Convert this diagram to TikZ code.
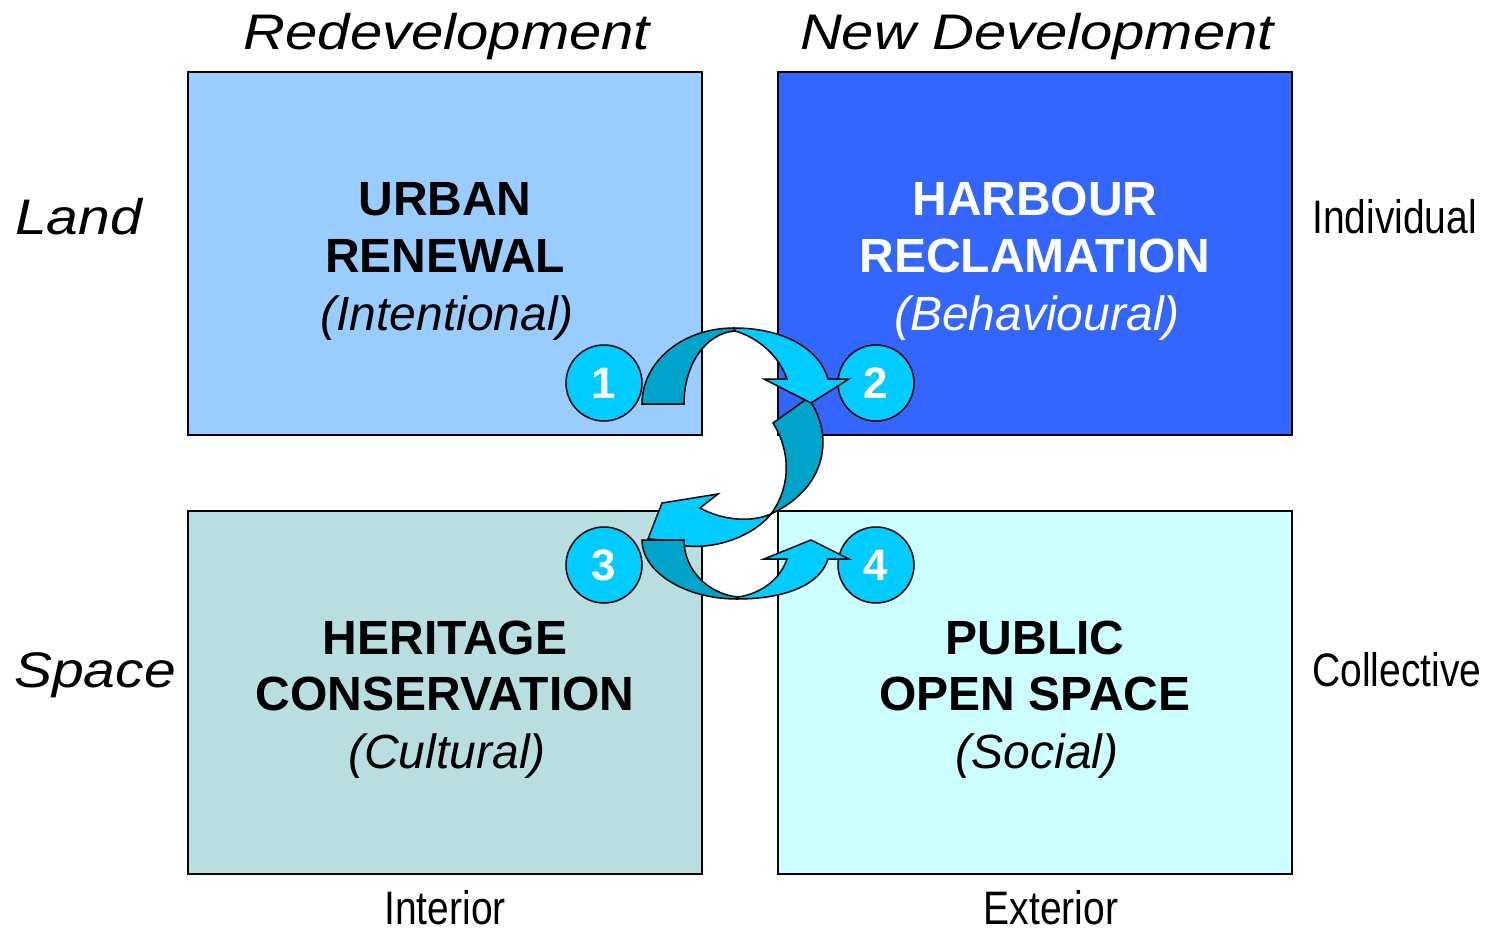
\documentclass[tikz,border=0pt]{standalone}
\usepackage{fontspec}
\setmainfont{Liberation Sans}
\definecolor{boxa}{HTML}{99CCFF}
\definecolor{boxb}{HTML}{3366FF}
\definecolor{boxc}{HTML}{B8DEE0}
\definecolor{boxd}{HTML}{CCFFFF}
\definecolor{cyanlight}{HTML}{00CCFF}
\definecolor{cyandark}{HTML}{00A3C9}
\begin{document}
\begin{tikzpicture}[x=1pt,y=-1pt,
  quad/.style={draw=black,line width=2pt,minimum width=514pt,minimum height=363pt,inner sep=0pt},
  big/.style={font=\fontsize{48}{57}\selectfont\bfseries,anchor=base,inner sep=0pt},
  sub/.style={font=\fontsize{48}{57}\selectfont\itshape,anchor=base,inner sep=0pt},
  axis/.style={font=\fontsize{50}{60}\selectfont\itshape,inner sep=0pt},
  side/.style={font=\fontsize{47}{55}\selectfont,inner sep=0pt},
  num/.style={circle,draw=black,line width=1.5pt,fill=cyanlight,minimum size=76pt,inner sep=0pt,text=white,font=\fontsize{44}{44}\selectfont\bfseries},
  adark/.style={fill=cyandark,draw=black,line width=1.5pt},
  alight/.style={fill=cyanlight,draw=black,line width=1.5pt}]
\useasboundingbox (0,0) rectangle (1486,931);
% quadrants
\node[quad,fill=boxa] (b1) at (445,253.5) {};
\node[quad,fill=boxb] (b2) at (1035,253.5) {};
\node[quad,fill=boxc] (b3) at (445,692.5) {};
\node[quad,fill=boxd] (b4) at (1035,692.5) {};
% quadrant texts
\node[big] (t1a) at (445,215) {URBAN};
\node[big] (t1b) at (445,272) {RENEWAL};
\node[sub] (t1c) at (447,330) {(Intentional)};
\node[big,text=white] (t2a) at (1035,215) {HARBOUR};
\node[big,text=white] (t2b) at (1035,272) {RECLAMATION};
\node[sub,text=white] (t2c) at (1037,330) {(Behavioural)};
\node[big] (t3a) at (445,654) {HERITAGE};
\node[big] (t3b) at (445,710) {CONSERVATION};
\node[sub] (t3c) at (447,768) {(Cultural)};
\node[big] (t4a) at (1035,654) {PUBLIC};
\node[big] (t4b) at (1035,710) {OPEN SPACE};
\node[sub] (t4c) at (1037,768) {(Social)};
% axis labels
\node[axis,anchor=base] (redev) at (447,50) {\scalebox{1.16}[1]{Redevelopment}};
\node[axis,anchor=base] (newdev) at (1037,50) {\scalebox{1.16}[1]{New Development}};
\node[axis,anchor=base west] (land) at (15,234) {\scalebox{1.14}[1]{Land}};
\node[axis,anchor=base west] (space) at (14,687) {\scalebox{1.14}[1]{Space}};
\node[side,anchor=base west] (indiv) at (1312,233) {\scalebox{0.83}[1]{Individual}};
\node[side,anchor=base west] (coll) at (1312,686) {\scalebox{0.83}[1]{Collective}};
\node[side,anchor=base] (inter) at (445,924) {\scalebox{0.83}[1]{Interior}};
\node[side,anchor=base] (exter) at (1051,924) {\scalebox{0.83}[1]{Exterior}};
% numbered circles
\node[num] (c1) at (604,383) {1};
\node[num] (c2) at (876,383) {2};
\node[num] (c3) at (604,565) {3};
\node[num] (c4) at (876,565) {4};
% arrow 2 -> 3
\draw[adark] (773,423) -- (808,398) .. controls (832,430) and (832,485) .. (771,514)
  .. controls (792,485) and (790,450) .. (773,423) -- cycle;
\draw[alight] (771,514) .. controls (750,540) and (700,556) .. (662,540) -- (648,539)
  -- (662,503) -- (718,494) -- (700,508) .. controls (722,520) and (750,523) .. (771,514) -- cycle;
% arrow 1 -> 2
\draw[adark] (642,404) .. controls (642,362) and (682,328) .. (734,328) -- (735,331)
  .. controls (706,333) and (684,364) .. (684,404) -- cycle;
\draw[alight] (734,328) .. controls (785,328) and (820,350) .. (828,379) -- (849,379)
  -- (811,403) -- (764,379) -- (787,379) .. controls (780,358) and (760,338) .. (735,331) -- cycle;
% arrow 3 -> 4
\draw[adark] (642,540) .. controls (642,572) and (685,599) .. (737,599) -- (738,597)
  .. controls (708,594) and (684,570) .. (684,540) -- cycle;
\draw[alight] (737,599) .. controls (785,599) and (820,585) .. (828,559) -- (849,559)
  -- (811,540) -- (764,559) -- (787,559) .. controls (780,580) and (760,594) .. (738,597) -- cycle;
\end{tikzpicture}
\end{document}
